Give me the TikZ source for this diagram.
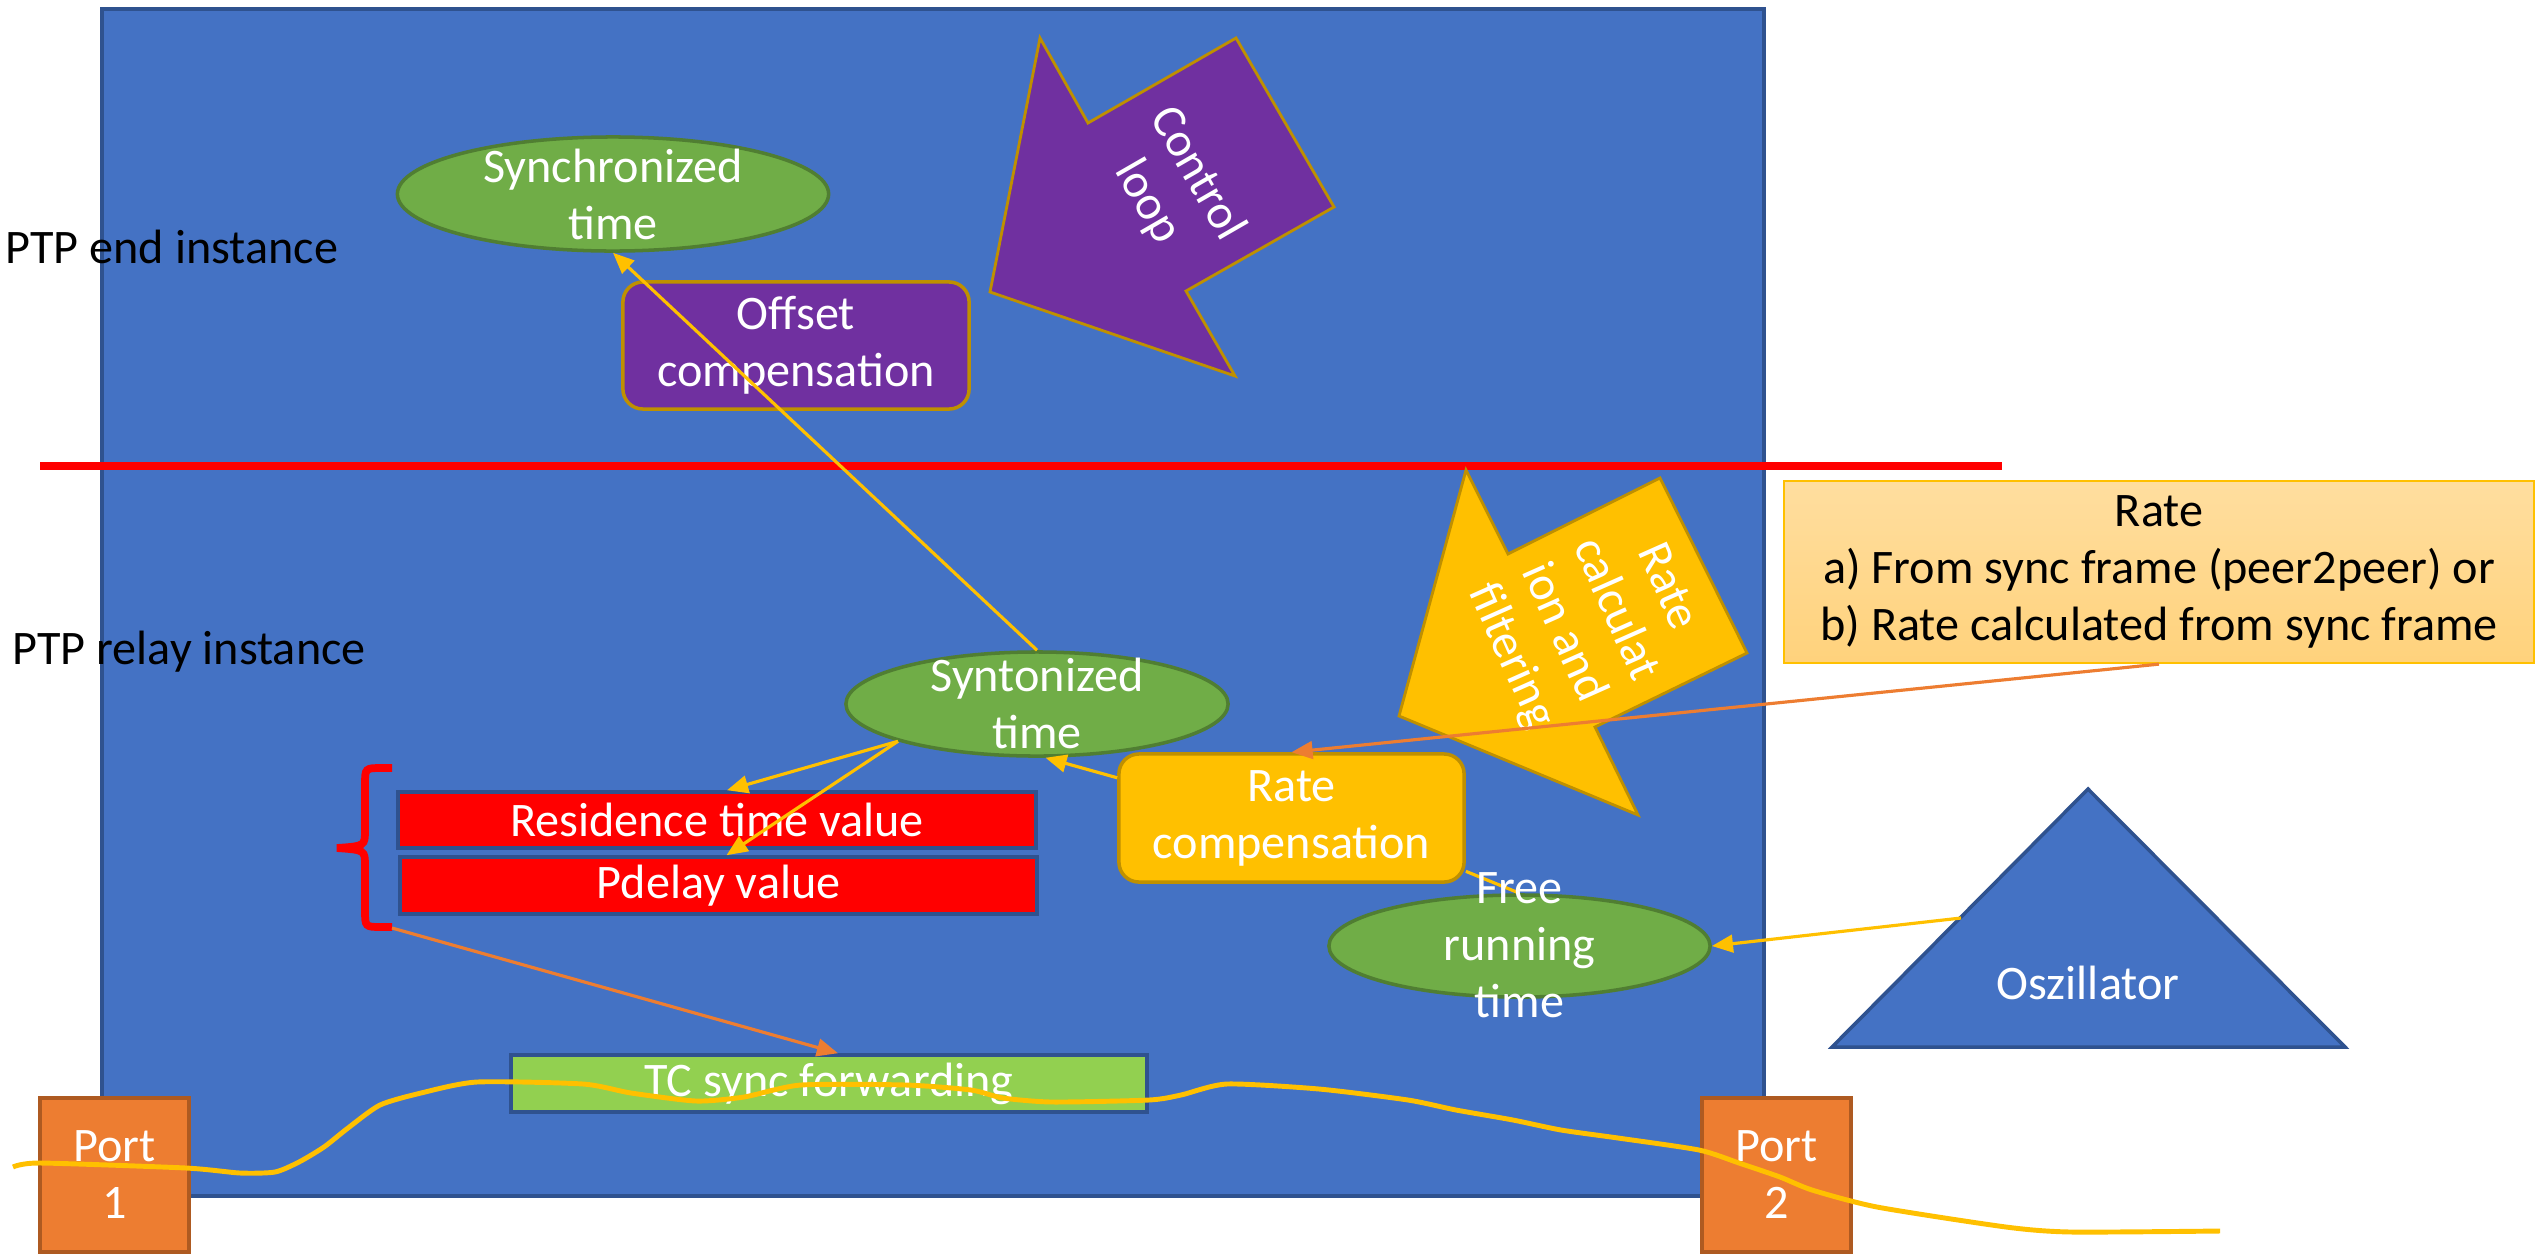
\documentclass[tikz,border=0pt]{standalone}
\usepackage{fontspec}
\setmainfont{Carlito}
\usetikzlibrary{shapes.geometric,arrows.meta,calc}
\definecolor{bgblue}{HTML}{4472C4}
\definecolor{bordblue}{HTML}{2F528F}
\definecolor{cgreen}{HTML}{70AD47}
\definecolor{cgreenb}{HTML}{507E32}
\definecolor{cpurple}{HTML}{7030A0}
\definecolor{cgold}{HTML}{BF9000}
\definecolor{cyellow}{HTML}{FFC000}
\definecolor{corange}{HTML}{ED7D31}
\definecolor{corangeb}{HTML}{AE5A21}
\definecolor{clgreen}{HTML}{92D050}
\definecolor{cred}{HTML}{FF0000}
\definecolor{rtop}{HTML}{FFDE9F}
\definecolor{rbot}{HTML}{FFD27C}
\begin{document}
\begin{tikzpicture}[x=0.01cm,y=-0.01cm,
  font=\fontsize{13.7pt}{16.2pt}\selectfont,
  every node/.style={text=white, inner sep=0pt},
  ell/.style={ellipse, draw=cgreenb, fill=cgreen, line width=1pt},
  txt/.style={align=center},
  boxnode/.style={rectangle, line width=1pt, align=center},
  yarrow/.style={draw=cyellow, line width=0.9pt, -{Triangle[length=6pt,width=5pt]}},
  oarrow/.style={draw=corange, line width=0.9pt, -{Triangle[length=6pt,width=5pt]}},
  yline/.style={draw=cyellow, line width=0.9pt},
  wavepath/.style={draw=cyellow, line width=1.4pt}]
\useasboundingbox (0,0) rectangle (2537,1254);
% main block
\fill[bgblue, draw=bordblue, line width=1pt] (102,9) rectangle (1764,1196);
\draw[cred, line width=2pt] (40,466) -- (2002,466);
\node[anchor=base west, text=black] (ptpend) at (5,263) {PTP end instance};
\node[anchor=base west, text=black] (ptprelay) at (12,664) {PTP relay instance};
% control loop arrow
\draw[fill=cpurple, draw=cgold, line width=0.8pt] (990,292) -- (1040,38) -- (1088,123) -- (1236,38) -- (1334,207) -- (1186,291) -- (1235,376) -- cycle;
\node[txt, rotate=-60] (ctrl) at (1172,188) {Control\\loop};
% rate calculation arrow
\draw[fill=cyellow, draw=cgold, line width=0.8pt] (1399,716) -- (1466,470) -- (1508,554) -- (1660,478) -- (1747,653) -- (1595,727) -- (1638,815) -- cycle;
\node[txt, rotate=-66] (ratecalc) at (1588,622) {Rate\\calculat\\ion and\\filtering};
% rate info box
\node[boxnode, draw=cyellow, top color=rtop, bottom color=rbot, line width=0.6pt, minimum width=7.5cm, minimum height=1.82cm, text=black] (rateinfo) at (2159,572) {Rate\\a) From sync frame (peer2peer) or\\b) Rate calculated from sync frame};
% ellipses
\node[ell, minimum width=4.31cm, minimum height=1.14cm] (sync) at (613,194) {};
\node[txt] (synctxt) at (613,194) {Synchronized\\time};
\node[ell, minimum width=3.82cm, minimum height=1.04cm] (synt) at (1037,704) {};
\node[txt] (synttxt) at (1037,703) {Syntonized\\time};
\node[ell, minimum width=3.81cm, minimum height=1.02cm] (free) at (1519.5,946) {};
% boxes
\node[boxnode, rounded corners=0.2cm, fill=cpurple, draw=cgold, minimum width=3.46cm, minimum height=1.27cm] (offset) at (796,345.5) {Offset\\compensation};
\node[boxnode, rounded corners=0.2cm, fill=cyellow, draw=cgold, minimum width=3.45cm, minimum height=1.28cm] (rc) at (1291.5,818) {Rate\\compensation};
\node[boxnode, fill=cred, draw=bordblue, minimum width=6.38cm, minimum height=0.56cm] (res) at (717,820) {Residence time value};
\node[boxnode, fill=cred, draw=bordblue, minimum width=6.37cm, minimum height=0.57cm] (pd) at (718.5,885.5) {Pdelay value};
\node[boxnode, fill=clgreen, draw=bordblue, minimum width=6.36cm, minimum height=0.57cm] (tc) at (829,1083.5) {TC sync forwarding};
\node[boxnode, fill=corange, draw=corangeb, minimum width=1.49cm, minimum height=1.54cm] (p1) at (114.5,1175) {Port\\1};
\node[boxnode, fill=corange, draw=corangeb, minimum width=1.49cm, minimum height=1.54cm] (p2) at (1776.5,1175) {Port\\2};
% oscillator
\draw[fill=bgblue, draw=bordblue, line width=1pt] (2088,789) -- (2345,1047) -- (1832,1047) -- cycle;
\coordinate (oscin) at (1961,918);
\node[anchor=base] (osc) at (2088,999) {Oszillator};
% brace
\draw[cred, line width=2.2pt] (392,768) -- (382,768) .. controls (365,768) .. (365,785) -- (365,830) .. controls (365,846) .. (337,848) .. controls (365,850) .. (365,866) -- (365,910) .. controls (365,927) .. (382,927) -- (392,927);
\coordinate (braceend) at (392,928);
% connectors
\draw[yarrow] (synt.north) -- (sync.south);
\draw[yarrow] (synt.195) -- ($(res.north)+(10,0)$);
\draw[yarrow] (synt.195) -- ($(pd.north)+(8,0)$);
\draw[yarrow] (rc.167) -- (synt.-81);
\draw[yline] (free.north) -- (rc.-17);
\draw[yarrow] (oscin) -- (free.east);
\draw[oarrow] (rateinfo.south) -- (rc.north);
\draw[oarrow] (braceend) -- ($(tc.north)+(9,0)$);
\node[txt] (freetxt) at (1519.5,945) {Free\\running\\time};
% signal wave
\draw[wavepath] plot[smooth, tension=0.4] coordinates {(13,1167) (40,1163) (186,1168) (240,1173) (275,1172) (299,1162) (324,1147) (348,1128) (380,1105) (421,1093) (477,1082) (583,1084) (631,1093) (696,1101) (744,1097) (801,1085) (906,1085) (971,1090) (1003,1098) (1052,1102) (1149,1100) (1181,1095) (1227,1084) (1319,1089) (1408,1100) (1456,1110) (1513,1120) (1561,1130) (1618,1138) (1699,1150) (1739,1163) (1780,1177) (1812,1190) (1877,1207) (2006,1227) (2071,1232) (2220,1231)};
\end{tikzpicture}
\end{document}
